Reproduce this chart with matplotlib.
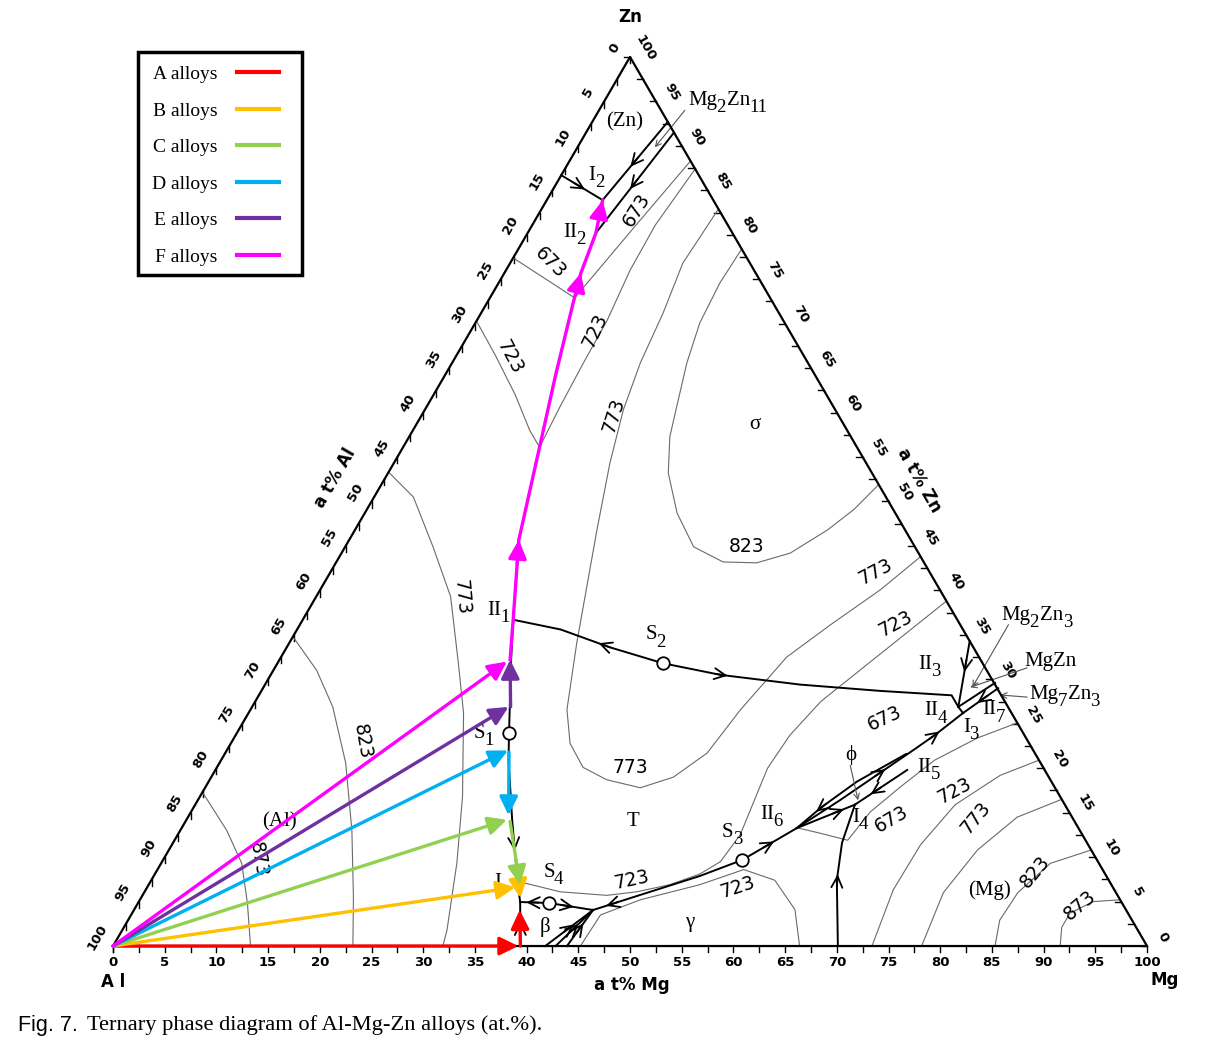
import numpy as np
import matplotlib.pyplot as plt
from matplotlib.lines import Line2D
from matplotlib.patches import Rectangle

SERIF = 'Liberation Serif'
H = np.sqrt(3) / 2

# ---------------- data, all in (at% Mg, at% Zn) ----------------
# isotherms (K), thin grey
iso873_al_mg = [0, 4.5, 7.8, 10.6, 13.3]
iso873_al_zn = [17.3, 13.0, 9.3, 4.8, 0]
iso823_al_mg = [0, 4.2, 7.8, 12.2, 16.6, 20.5, 23.2]
iso823_al_zn = [34.8, 31.0, 26.9, 20.6, 13.0, 5.5, 0]
iso773_al_mg = [0, 3.8, 8.5, 13.0, 17.5, 20.8, 25.4, 28.6, 31.4, 31.9]
iso773_al_zn = [53.3, 50.5, 44.9, 39.3, 31.8, 26.2, 16.8, 9.3, 1.8, 0]
iso723_l_mg = [0, 3.7, 7.9, 11.3, 13.2]
iso723_l_zn = [70.3, 66.5, 62.0, 58.0, 56.1]
iso673_l_mg = [0, 8.2]
iso673_l_zn = [77.4, 72.9]
iso673_r_mg = [11.7, 9.9, 8.2]
iso673_r_zn = [88.3, 80.5, 72.9]
iso723_r_mg = [12.6, 11.9, 12.0, 12.6, 12.7, 12.9, 13.2]
iso723_r_zn = [87.4, 81.1, 76.0, 70.4, 65.6, 60.6, 56.1]
iso773_loop_mg = [17.1, 16.9, 16.7, 17.6, 18.2, 19.2, 20.9, 23.4, 27.8, 30.6, 32.8,
                  35.4, 38.4, 42.1, 44.7, 46.6, 47.4, 48.9, 51.3, 54.2, 56.2]
iso773_loop_zn = [82.9, 79.8, 76.8, 71.2, 65.6, 60.3, 54.3, 46.8, 34.1, 26.6, 22.8,
                  20.1, 18.7, 17.8, 19.0, 21.7, 26.6, 32.5, 36.1, 40.1, 43.8]
iso823_sig_mg = [21.6, 21.4, 21.7, 22.7, 24.2, 25.2, 27.1, 30.2, 33.7, 37.4, 40.7,
                 43.4, 45.7, 47.1, 48.1]
iso823_sig_zn = [78.4, 74.6, 70.1, 65.6, 60.6, 57.3, 53.2, 48.7, 44.9, 43.2, 43.1,
                 44.2, 46.8, 49.1, 51.9]
iso723_t_mg = [61.2, 57.4, 54.7, 53.6, 53.3, 53.9, 54.4, 54.0, 52.7, 50.4, 47.6, 44.9, 40.2, 35.8]
iso723_t_zn = [38.8, 32.2, 27.5, 23.7, 20.0, 15.9, 12.5, 9.5, 8.1, 6.9, 6.1, 5.7, 6.1, 7.2]
iso723_g_mg = [45.2, 45.4, 48.4, 53.3, 56.7, 60.3, 63.9, 66.4]
iso723_g_zn = [0, 3.5, 5.2, 6.9, 8.6, 7.4, 4.1, 0]
iso673_phi_mg = [74.9, 71.9, 69.0, 67.2, 65.7, 65.1, 62.0, 59.5]
iso673_phi_zn = [25.1, 23.4, 20.9, 17.9, 15.1, 11.9, 12.7, 13.3]
iso723_mg_mg = [79.1, 76.2, 73.5, 72.4, 72.3, 73.4]
iso723_mg_zn = [20.9, 19.2, 15.9, 11.4, 6.3, 0]
iso773_mg_mg = [83.5, 80.2, 78.2, 77.3, 78.2]
iso773_mg_zn = [16.5, 14.5, 10.8, 6.0, 0]
iso823_mg_mg = [89.2, 86.0, 84.5, 84.3, 85.3]
iso823_mg_zn = [10.8, 9.3, 6.0, 2.9, 0]
iso873_mg_mg = [94.8, 92.3, 90.7, 90.7, 91.6]
iso873_mg_zn = [5.2, 5.0, 3.7, 2.1, 0]

# univariant lines (black)
valley_mg = [39.4, 36.9, 35.4, 31.5, 27.8, 26.3, 22.4, 20.35, 16.4, 13.2, 10.7, 8.4, 7.4, 6.6, 5.4]
valley_zn = [0, 4.95, 7.4, 14.2, 20.9, 24.0, 32.2, 36.7, 45.7, 56.1, 64.2, 72.1, 75.7, 80.2, 83.9]
i2_left_mg, i2_left_zn = [0, 5.4], [86.7, 83.9]
zn11_a_mg, zn11_a_zn = [7.3, 5.4], [92.7, 83.9]
zn11_b_mg, zn11_b_zn = [8.5, 6.6], [91.5, 80.2]
s2_mg = [20.35, 25.5, 31.25, 37.3, 43.5, 51.8, 59.8, 67.0, 68.3]
s2_zn = [36.7, 35.6, 33.6, 31.8, 30.5, 29.4, 28.7, 28.2, 26.9]
ii3_mg, ii3_zn = [65.7, 68.3], [34.3, 26.9]
i3_mg, i3_zn = [68.3, 69.1], [26.9, 26.2]
mgzn_a_mg, mgzn_a_zn = [69.1, 71.1], [26.2, 29.0]
mgzn_b_mg, mgzn_b_zn = [68.3, 70.5], [26.9, 29.6]
s4_mg, s4_zn = [36.9, 39.75, 44.4], [4.95, 4.84, 4.05]
f1_mg, f1_zn = [44.4, 48.1, 52.8, 56.0, 59.5], [4.05, 5.74, 7.87, 9.67, 13.27]
f2_mg, f2_zn = [59.5, 62.1, 64.45, 66.2, 67.6, 69.1], [13.27, 16.4, 19.5, 21.8, 23.7, 26.2]
f2b_mg, f2b_zn = [59.5, 60.7, 62.7, 65.9], [13.27, 15.6, 18.5, 21.6]
f3_mg, f3_zn = [59.5, 63.8], [13.27, 15.9]
f4_mg, f4_zn = [63.8, 66.9], [15.9, 19.8]
f5_mg, f5_zn = [70.1, 66.3, 64.7, 63.8], [0, 7.4, 11.6, 15.9]
beta_start_mg = [41.8, 42.8, 43.9]
beta_end = (44.4, 4.05)

# invariant points drawn as open circles (S1..S4)
sad_mg = [26.3, 37.3, 56.0, 39.75]
sad_zn = [24.0, 31.8, 9.67, 4.84]

# alloy paths: start at Al corner, end on the valley, then along it
alloy_names = ['A alloys', 'B alloys', 'C alloys', 'D alloys', 'E alloys', 'F alloys']
alloy_colors = ['#FF0000', '#FFC000', '#92D050', '#00B0F0', '#7030A0', '#FF00FF']
alloy_end_mg = [39.2, 35.6, 31.0, 27.2, 24.8, 22.1]
alloy_end_zn = [0, 6.6, 14.2, 22.0, 26.9, 32.0]
alloy_run_mg = [(39.4, 37.3), (35.1, 36.7), (31.4, 35.9), (27.4, 30.9), (25.0, 22.3)]
alloy_run_zn = [(0, 4.05), (8.0, 5.4), (14.0, 6.9), (21.8, 14.7), (26.9, 32.2)]
f_path_mg = [22.3, 20.35, 16.4, 13.2, 10.7, 8.4, 7.4, 6.6, 5.4]
f_path_zn = [32.2, 36.7, 45.7, 56.1, 64.2, 72.1, 75.7, 80.2, 83.9]
f_heads = [2, 6, 8]


def tern(mg, zn):
    mg = np.asarray(mg, dtype=float)
    zn = np.asarray(zn, dtype=float)
    return mg + zn / 2, zn * H


fig = plt.figure(figsize=(12.19, 10.49), dpi=100)
ax = fig.add_axes([0, 0, 1, 1])
ax.set_xlim(-10.93, 106.96)
ax.set_ylim(-10.03, 92.15)
ax.axis('off')

# triangle and ticks
ex, ey = tern([0, 100, 0, 0], [0, 0, 100, 0])
ax.plot(ex, ey, color='k', lw=1.6, zorder=4)
tick_font = dict(size=9.5, weight='bold', family='DejaVu Sans', ha='center', va='center')
for v in np.arange(0, 100.01, 2.5):
    bx, by = tern(v, 0)
    lx, ly = tern(0, 100 - v)
    rx, ry = tern(100 - v, v)
    ax.plot([bx, bx], [by, by - 0.6], color='k', lw=1)
    ax.plot([lx, lx], [ly, ly - 0.6], color='k', lw=1)
    ax.plot([rx, rx - 0.6], [ry, ry], color='k', lw=1)
    if v % 5 == 0:
        lab = str(int(v))
        ax.text(bx, by - 1.65, lab, **tick_font)
        ax.text(lx - 1.75 * H, ly + 0.88, lab, rotation=60, **tick_font)
        ax.text(rx + 1.75 * H, ry + 0.88, lab, rotation=-60, **tick_font)

axis_font = dict(size=12, weight='bold', ha='center', va='center')
ax.text(21.5, 45.6, 'a t% Al', rotation=60, **axis_font)
ax.text(78.0, 45.4, 'a t% Zn', rotation=-60, **axis_font)
ax.text(50.2, -3.8, 'a t% Mg', **axis_font)
ax.text(50.0, 90.5, 'Zn', **axis_font)
ax.text(0.0, -3.5, 'A l', **axis_font)
ax.text(101.7, -3.3, 'Mg', **axis_font)

# isotherms
isotherms = [
    (iso873_al_mg, iso873_al_zn), (iso823_al_mg, iso823_al_zn), (iso773_al_mg, iso773_al_zn),
    (iso723_l_mg, iso723_l_zn), (iso673_l_mg, iso673_l_zn), (iso673_r_mg, iso673_r_zn),
    (iso723_r_mg, iso723_r_zn), (iso773_loop_mg, iso773_loop_zn), (iso823_sig_mg, iso823_sig_zn),
    (iso723_t_mg, iso723_t_zn), (iso723_g_mg, iso723_g_zn), (iso673_phi_mg, iso673_phi_zn),
    (iso723_mg_mg, iso723_mg_zn), (iso773_mg_mg, iso773_mg_zn), (iso823_mg_mg, iso823_mg_zn),
    (iso873_mg_mg, iso873_mg_zn),
]
for mg, zn in isotherms:
    x, y = tern(mg, zn)
    ax.plot(x, y, color='#6a6a6a', lw=0.8, zorder=2)

# univariant lines
black_lines = {
    'valley': (valley_mg, valley_zn), 'i2l': (i2_left_mg, i2_left_zn),
    'z11a': (zn11_a_mg, zn11_a_zn), 'z11b': (zn11_b_mg, zn11_b_zn),
    's2': (s2_mg, s2_zn), 'ii3': (ii3_mg, ii3_zn), 'i3': (i3_mg, i3_zn),
    'mza': (mgzn_a_mg, mgzn_a_zn), 'mzb': (mgzn_b_mg, mgzn_b_zn),
    's4': (s4_mg, s4_zn), 'f1': (f1_mg, f1_zn), 'f2': (f2_mg, f2_zn),
    'f2b': (f2b_mg, f2b_zn), 'f3': (f3_mg, f3_zn), 'f4': (f4_mg, f4_zn),
    'f5': (f5_mg, f5_zn),
}
for i, m0 in enumerate(beta_start_mg):
    black_lines['b%d' % i] = ([m0, beta_end[0]], [0, beta_end[1]])
for mg, zn in black_lines.values():
    x, y = tern(mg, zn)
    ax.plot(x, y, color='k', lw=1.4, zorder=3)


def curve_arrow(key, at, sign=1):
    mg, zn = black_lines[key]
    x, y = tern(mg, zn)
    d = np.r_[0, np.cumsum(np.hypot(np.diff(x), np.diff(y)))]
    s = np.linspace(0, d[-1], 500)
    xs, ys = np.interp(s, d, x), np.interp(s, d, y)
    px, py = tern(*at)
    s0 = s[np.argmin((xs - px) ** 2 + (ys - py) ** 2)]
    a = (np.interp(s0 - 0.6 * sign, d, x), np.interp(s0 - 0.6 * sign, d, y))
    b = (np.interp(s0 + 0.6 * sign, d, x), np.interp(s0 + 0.6 * sign, d, y))
    ax.annotate('', xy=b, xytext=a, zorder=3,
                arrowprops=dict(arrowstyle='->,head_length=0.45,head_width=0.22',
                                color='k', lw=1.3, mutation_scale=18, shrinkA=0, shrinkB=0))


black_arrows = [
    ('valley', (33.2, 11.4), -1), ('valley', (38.35, 2.0), 1),
    ('i2l', (2.4, 85.5), 1), ('z11a', (6.0, 88.4), 1), ('z11b', (7.7, 85.6), 1),
    ('s2', (30.6, 33.9), -1), ('s2', (43.5, 30.7), 1), ('ii3', (66.1, 31.6), 1),
    ('s4', (38.1, 4.95), -1), ('s4', (41.7, 4.5), 1),
    ('f1', (46.0, 4.6), -1), ('f1', (57.7, 11.4), 1),
    ('f2', (64.45, 19.5), 1), ('f2', (67.6, 23.7), 1), ('f2b', (61.0, 15.3), -1),
    ('f3', (62.6, 15.1), 1), ('f4', (65.2, 17.3), -1), ('f5', (66.3, 7.4), 1),
    ('mza', (69.9, 28.0), -1),
    ('b0', (43.1, 2.0), 1), ('b1', (43.6, 2.0), 1), ('b2', (44.15, 2.0), 1),
]
for key, at, sign in black_arrows:
    curve_arrow(key, at, sign)

# open circles
sx, sy = tern(sad_mg, sad_zn)
ax.plot(sx, sy, 'o', ms=9, mfc='white', mec='k', mew=1.3, zorder=6)

# alloy arrows
col_arrow = dict(arrowstyle='-|>,head_length=0.45,head_width=0.22', lw=2.4,
                 mutation_scale=25, shrinkA=0, shrinkB=0)
for i, c in enumerate(alloy_colors):
    ax.annotate('', xy=tern(alloy_end_mg[i], alloy_end_zn[i]), xytext=tern(0, 0),
                arrowprops=dict(color=c, **col_arrow), zorder=5)
for i, c in enumerate(alloy_colors[:5]):
    ax.annotate('', xy=tern(alloy_run_mg[i][1], alloy_run_zn[i][1]),
                xytext=tern(alloy_run_mg[i][0], alloy_run_zn[i][0]),
                arrowprops=dict(color=c, **col_arrow), zorder=5)
fx, fy = tern(f_path_mg, f_path_zn)
ax.plot(fx, fy, color='#FF00FF', lw=2.4, zorder=5)
for k in f_heads:
    ax.annotate('', xy=(fx[k], fy[k]),
                xytext=(fx[k] - 0.3 * (fx[k] - fx[k - 1]), fy[k] - 0.3 * (fy[k] - fy[k - 1])),
                arrowprops=dict(color='#FF00FF', **col_arrow), zorder=5)

# isotherm temperatures
iso_labels = [
    ('873', 14.0, 8.4, -80), ('823', 24.1, 19.9, -80), ('773', 33.75, 34.0, -85),
    ('723', 38.4, 57.4, -62), ('673', 42.3, 66.6, -45), ('673', 50.6, 71.7, 58),
    ('723', 46.6, 60.0, 65), ('773', 48.45, 51.7, 72), ('823', 61.3, 38.9, 0),
    ('773', 73.8, 36.5, 28), ('723', 75.7, 31.4, 28), ('773', 50.0, 17.4, 0),
    ('723', 50.2, 6.4, 12), ('723', 60.4, 5.75, 18), ('673', 74.6, 22.2, 25),
    ('673', 75.3, 12.3, 30), ('723', 81.4, 15.1, 28), ('773', 83.4, 12.5, 50),
    ('823', 89.2, 7.2, 50), ('873', 93.5, 4.0, 40),
]
for t, x, y, r in iso_labels:
    ax.text(x, y, t, rotation=r, size=13.5, ha='center', va='center', zorder=4)

# phase fields
phase_labels = [
    ('(Al)', 16.05, 12.1), ('(Zn)', 49.5, 80.3), ('σ', 62.1, 50.8),
    ('T', 50.3, 12.1), ('γ', 55.8, 2.3), ('β', 41.8, 1.9),
    ('(Mg)', 84.8, 5.45), ('ϕ', 71.3, 18.6),
]
for t, x, y in phase_labels:
    ax.text(x, y, t, size=15, family=SERIF, ha='center', va='center', zorder=4)


def sub_label(x, y, pieces, size=15):
    # pieces alternate: normal, subscript, normal, subscript ...
    base = ax.text(x, y, pieces[0], size=size, family=SERIF, ha='left', va='center', zorder=4)
    prev = base
    for k, p in enumerate(pieces[1:], 1):
        if k % 2 == 1:
            prev = ax.annotate(p, xy=(1, 0.12), xycoords=base, xytext=(-0.6, 0),
                               textcoords='offset points', size=size * 0.9, family=SERIF,
                               ha='left', va='center', zorder=4)
        else:
            base = ax.annotate(p, xy=(1, 0), xycoords=(prev, base), xytext=(1.0, 0),
                               textcoords='offset points', size=size, family=SERIF,
                               ha='left', va='bottom', zorder=4)
            prev = base


point_labels = [
    (36.2, 32.7, ['II', '1']), (34.9, 20.7, ['S', '1']), (51.5, 30.3, ['S', '2']),
    (58.9, 11.1, ['S', '3']), (41.6, 7.2, ['S', '4']), (36.85, 6.2, ['I']),
    (46.0, 75.1, ['I', '2']), (43.5, 69.5, ['II', '2']), (77.85, 27.4, ['II', '3']),
    (78.5, 22.9, ['II', '4']), (82.2, 21.3, ['I', '3']), (84.1, 23.0, ['II', '7']),
    (77.8, 17.4, ['II', '5']), (62.6, 12.8, ['II', '6']), (71.5, 12.5, ['I', '4']),
    (55.6, 82.4, ['Mg', '2', 'Zn', '11']), (85.9, 32.2, ['Mg', '2', 'Zn', '3']),
    (88.1, 27.7, ['MgZn']), (88.6, 24.5, ['Mg', '7', 'Zn', '3']),
]
for x, y, pieces in point_labels:
    sub_label(x, y, pieces)

# pointer lines for compounds
pointers = [((55.3, 81.4), (52.4, 77.8)), ((86.6, 31.3), (83.1, 25.2)),
            ((88.4, 27.1), (82.9, 25.2)), ((88.4, 24.25), (85.8, 24.45)),
            ((71.3, 17.6), (72.05, 14.2))]
for (x0, y0), (x1, y1) in pointers:
    ax.annotate('', xy=(x1, y1), xytext=(x0, y0),
                arrowprops=dict(arrowstyle='->', color='#555555', lw=0.8,
                                mutation_scale=10, shrinkA=0, shrinkB=0))

# legend with a hand drawn box
fig.patches.append(Rectangle((138 / 1219, 1 - 275 / 1049), 164 / 1219, 223 / 1049,
                             transform=fig.transFigure, fill=False, lw=2.5, ec='k'))
handles = [Line2D([], [], color=c, lw=3) for c in alloy_colors]
ax.legend(handles, alloy_names, loc='upper left',
          bbox_to_anchor=(138 / 1219, 1 - 52 / 1049), bbox_transform=fig.transFigure,
          prop=dict(family=SERIF, size=14), markerfirst=False,
          handlelength=2.2, handletextpad=1.0, labelspacing=0.97,
          borderpad=0.7, borderaxespad=0, frameon=False)

fig.text(18 / 1219, 1 - 1025 / 1049, 'Fig. 7.', family='Liberation Sans', size=15.5, va='center')
fig.text(87 / 1219, 1 - 1025 / 1049, 'Ternary phase diagram of Al-Mg-Zn alloys (at.%).',
         family=SERIF, size=16.2, va='center')

fig.savefig('out.png', dpi=100)
